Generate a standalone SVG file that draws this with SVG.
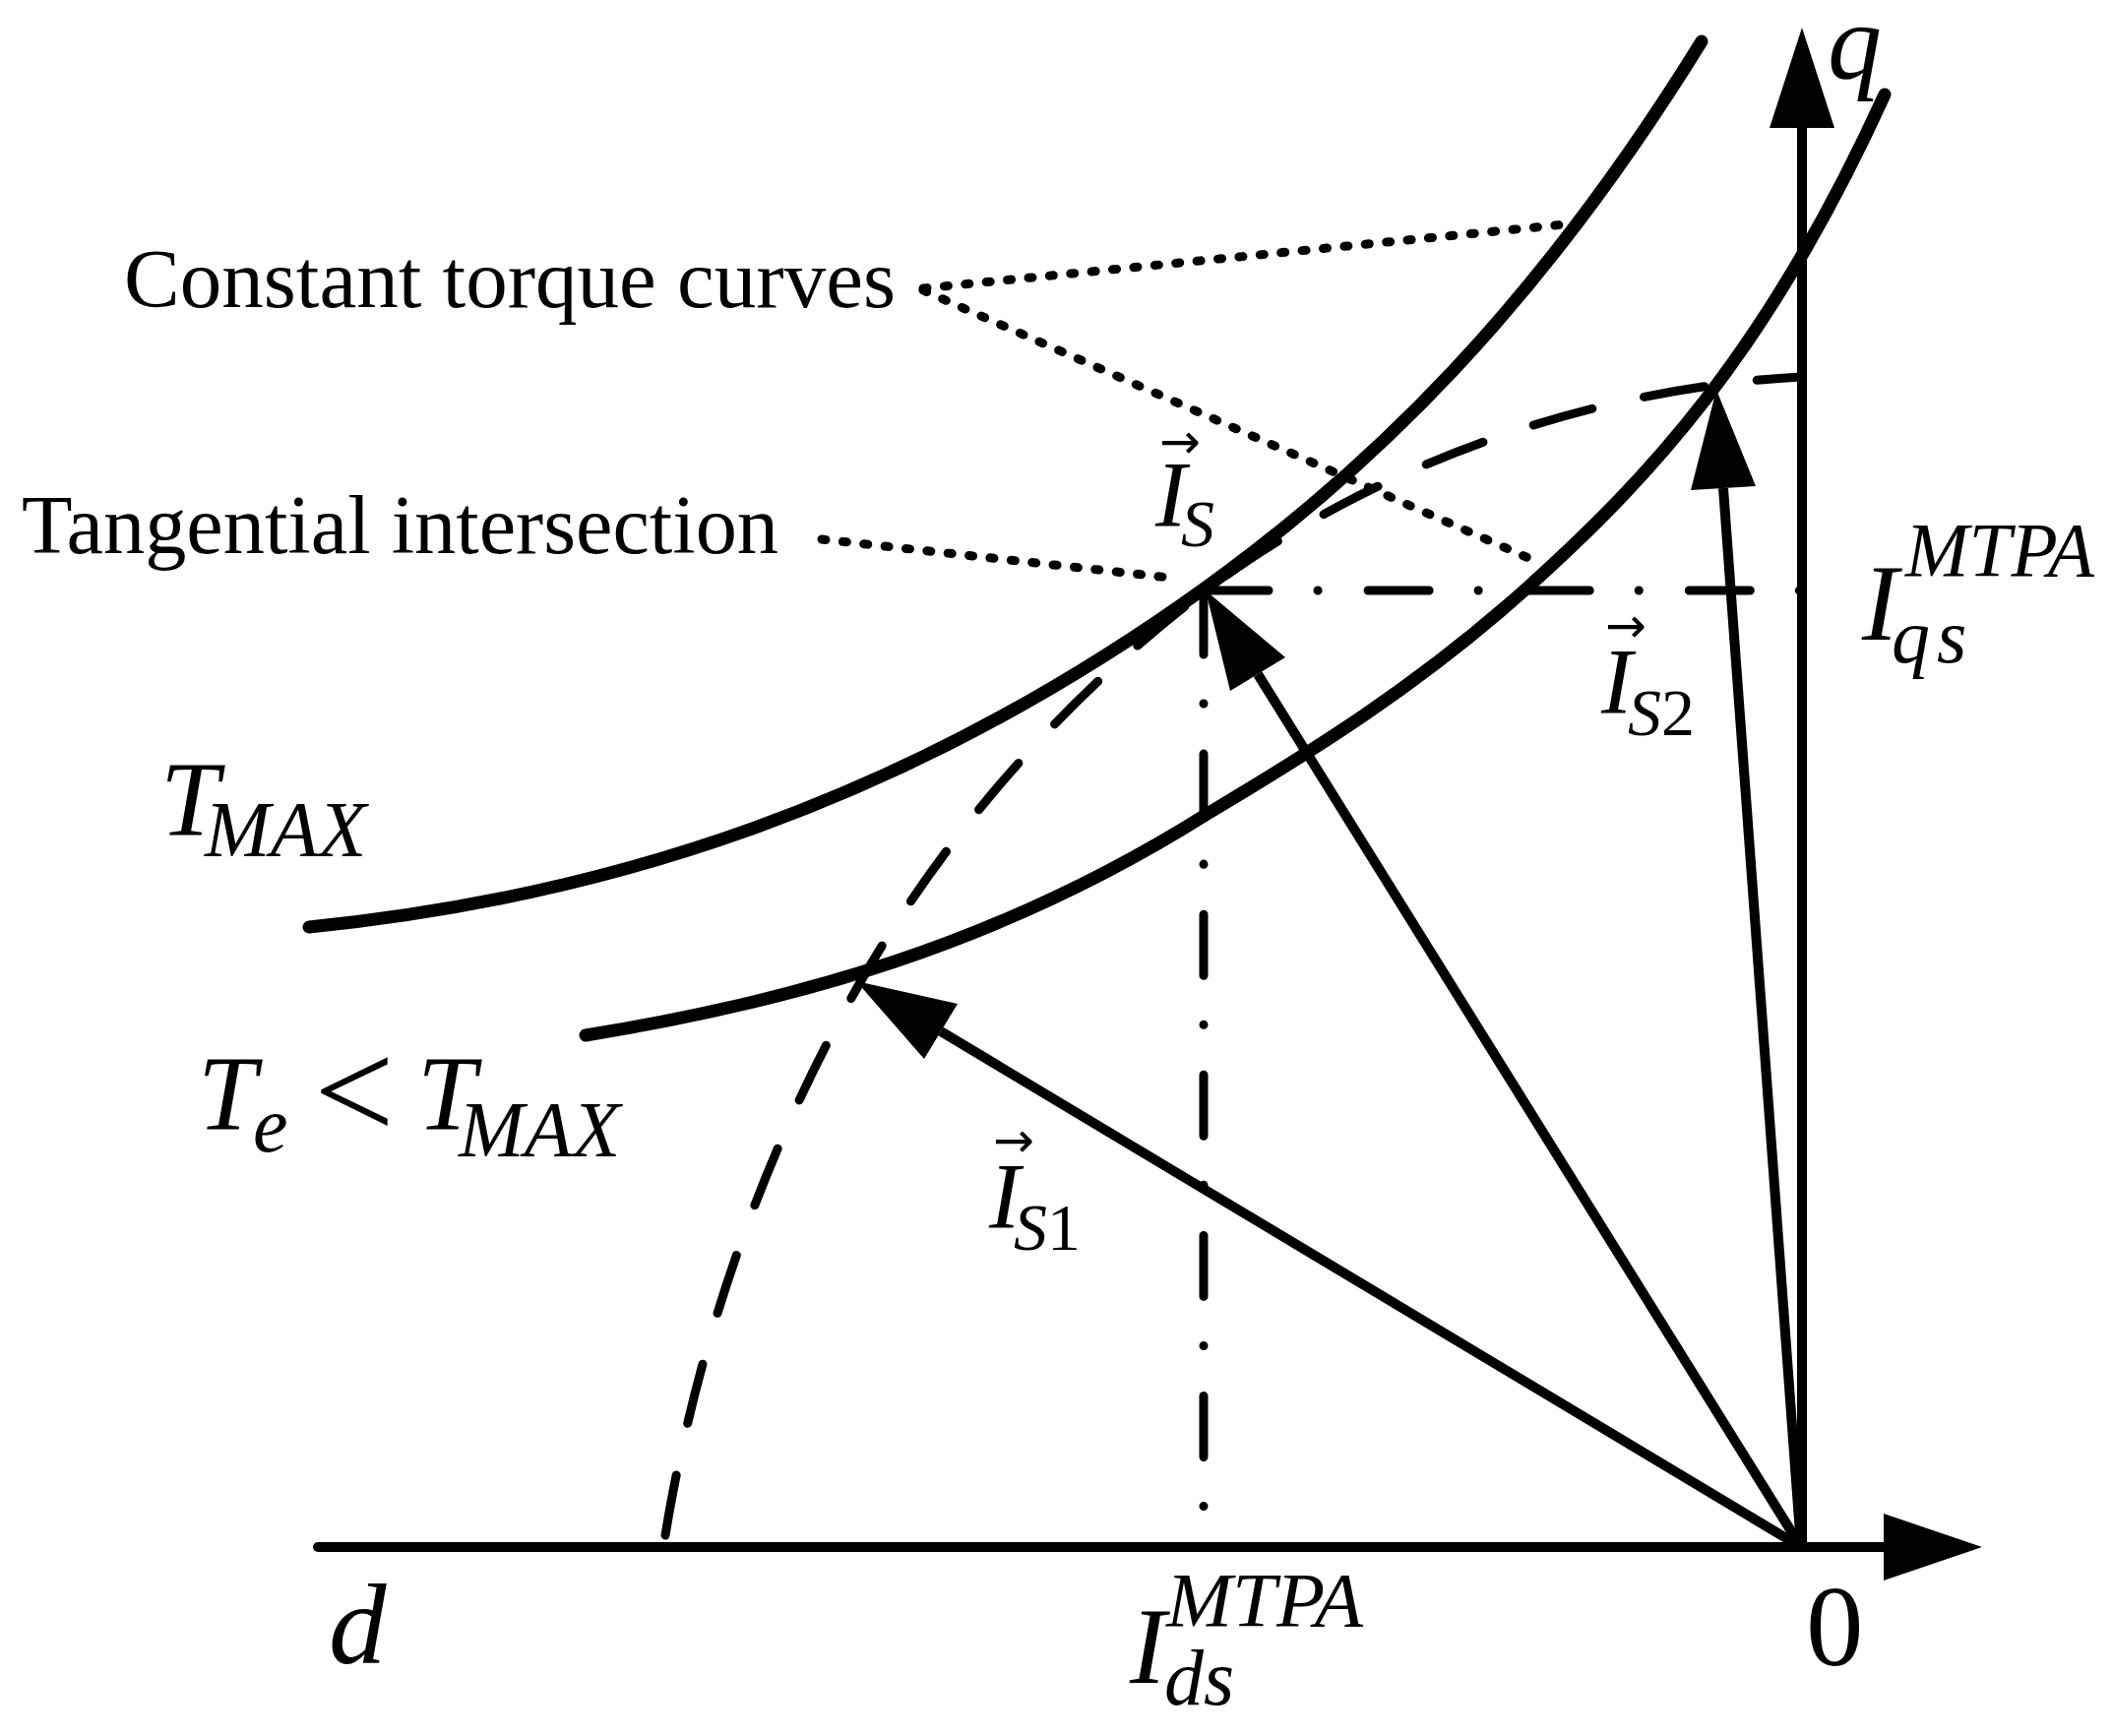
<svg xmlns="http://www.w3.org/2000/svg" width="2146" height="1764" viewBox="0 0 2146 1764">
<style>
.ax{stroke:#000;stroke-width:10;fill:none;stroke-linecap:round}
.curve{stroke:#000;stroke-width:13;fill:none;stroke-linecap:round}
.vec{stroke:#000;stroke-width:10;fill:none}
.head{fill:#000;stroke:none}
.dd{stroke:#000;stroke-width:9;fill:none;stroke-linecap:round;stroke-dasharray:62 50 0.1 51}
.mtpa{stroke:#000;stroke-width:9;fill:none;stroke-linecap:round;stroke-dasharray:62 54}
.dot{stroke:#000;stroke-width:9;fill:none;stroke-linecap:round;stroke-dasharray:4 17.5}
.t{font-family:"Liberation Serif","Times New Roman",serif;fill:#000}
.i{font-style:italic}
.arr{font-family:"DejaVu Sans",sans-serif;font-style:normal}
</style>
<rect width="2146" height="1764" fill="#fff"/>
<g id="axes">
<line class="ax" x1="323" y1="1572" x2="1916" y2="1572"/>
<polygon class="head" points="1914,1538 2014,1572 1914,1606"/>
<line class="ax" x1="1831" y1="1572" x2="1831" y2="128"/>
<polygon class="head" points="1798,130 1831,28 1864,130"/>
</g>
<g id="torque-curves">
<path id="curve-tmax" class="curve" d="M314,942 C617.7,911.6 921.3,815.7 1225,597 C1393,476 1561,314 1729,42"/>
<path id="curve-te" class="curve" d="M595,1052 C805,1018 1015,960 1225,828 C1334,763 1442,696 1551,598 C1672,489 1794,362 1915,96"/>
</g>
<g id="mtpa-trajectory">
<path class="mtpa" d="M676,1560 C708,1365 775,1172 873,1000 C961,846 1083,707 1225,600 C1396,472 1616,394 1830,383"/>
</g>
<g id="guides">
<path class="dd" d="M1227,600 H1830"/>
<path class="dd" d="M1223,603 V1535"/>
</g>
<g id="vectors">
<g id="vec-is">
<line class="vec" x1="1830" y1="1572" x2="1278" y2="685"/>
<polygon class="head" points="1225,600 1306,668 1250,702"/>
</g>
<g id="vec-is1">
<line class="vec" x1="1830" y1="1572" x2="956" y2="1048"/>
<polygon class="head" points="870,997 973,1020 939,1076"/>
</g>
<g id="vec-is2">
<line class="vec" x1="1830" y1="1572" x2="1751" y2="496"/>
<polygon class="head" points="1744,396 1784,494 1718,498"/>
</g>
</g>
<g id="connectors">
<path class="dot" d="M938,293 L1590,228"/>
<path class="dot" d="M938,295 L1553,567"/>
<path class="dot" d="M835,548 L1198,588"/>
</g>
<g id="labels">
<text id="lbl-constant" class="t" x="126" y="312" font-size="85" textLength="784" lengthAdjust="spacingAndGlyphs">Constant torque curves</text>
<text id="lbl-tangential" class="t" x="22" y="562" font-size="85" textLength="769" lengthAdjust="spacingAndGlyphs">Tangential intersection</text>
<text id="lbl-tmax" class="t i"><tspan x="163" y="848" font-size="107">T</tspan><tspan x="208" y="870" font-size="80">MAX</tspan></text>
<text id="lbl-te" class="t i"><tspan x="201" y="1147" font-size="107">T</tspan><tspan x="257" y="1170" font-size="80">e</tspan><tspan x="319" y="1157" font-size="145" font-style="normal">&lt;</tspan><tspan x="424" y="1147" font-size="107">T</tspan><tspan x="466" y="1175" font-size="80">MAX</tspan></text>
<text id="lbl-q" class="t i" x="1857" y="80" font-size="110">q</text>
<text id="lbl-d" class="t i" x="334" y="1690" font-size="117">d</text>
<text id="lbl-0" class="t" x="1835" y="1692" font-size="117">0</text>
<text id="lbl-iqs" class="t i"><tspan x="1892" y="650" font-size="110">I</tspan><tspan x="1936" y="585" font-size="78" textLength="192" lengthAdjust="spacingAndGlyphs">MTPA</tspan><tspan x="1922" y="673" font-size="78">q</tspan><tspan x="1968" y="673" font-size="78">s</tspan></text>
<text id="lbl-ids" class="t i"><tspan x="1148" y="1710" font-size="110">I</tspan><tspan x="1185" y="1652" font-size="78" textLength="200" lengthAdjust="spacingAndGlyphs">MTPA</tspan><tspan x="1183" y="1732" font-size="80">ds</tspan></text>
<text id="lbl-is" class="t i"><tspan class="arr" x="1178" y="466" font-size="50">→</tspan><tspan x="1174" y="535" font-size="95">I</tspan><tspan x="1200" y="555" font-size="68">S</tspan></text>
<text id="lbl-is1" class="t i"><tspan class="arr" x="1009" y="1176" font-size="50">→</tspan><tspan x="1005" y="1248" font-size="95">I</tspan><tspan x="1030" y="1270" font-size="68">S</tspan><tspan font-size="68" font-style="normal">1</tspan></text>
<text id="lbl-is2" class="t i"><tspan class="arr" x="1631" y="653" font-size="50">→</tspan><tspan x="1627" y="725" font-size="95">I</tspan><tspan x="1654" y="747" font-size="68">S</tspan><tspan font-size="68" font-style="normal">2</tspan></text>
</g>
</svg>
